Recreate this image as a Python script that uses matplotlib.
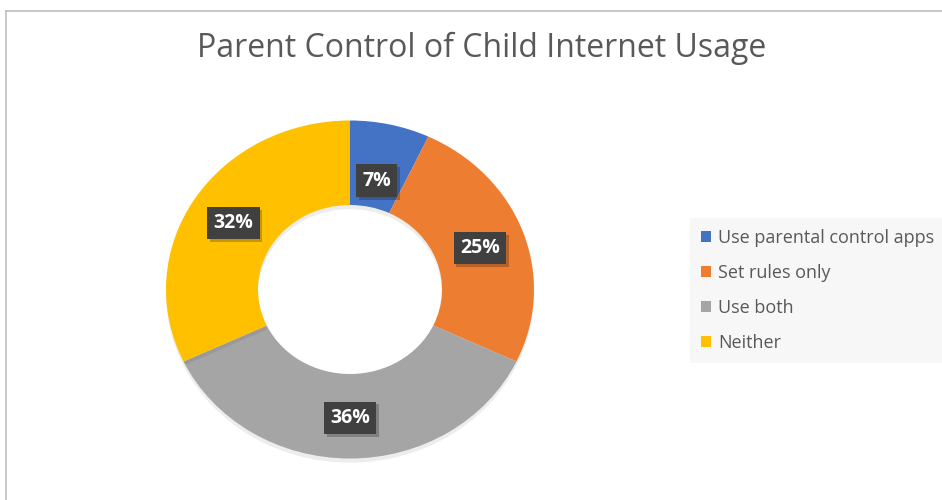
import matplotlib
matplotlib.use("Agg")
from matplotlib import pyplot as plt
from matplotlib import patheffects as pe
from matplotlib.patches import Patch
from matplotlib.lines import Line2D
import numpy as np

categories = ["Use parental control apps", "Set rules only", "Use both", "Neither"]
shares = [7, 25, 36, 32]
colors = ["#4472C4", "#ED7D31", "#A5A5A5", "#FFC000"]
title = "Parent Control of Child Internet Usage"

# label distance from centre (fraction of radius); the small slice is nudged in
label_r = [0.67, 0.75, 0.75, 0.75]

plt.rcParams['font.family'] = ['Open Sans', 'DejaVu Sans']

W, H = 942, 500
fig = plt.figure(figsize=(W / 100, H / 100), dpi=100)

# chart frame (cut off on the right and bottom in the original)
fig.add_artist(Line2D([5.5 / W, 1], [1 - 10.5 / H, 1 - 10.5 / H],
                      transform=fig.transFigure, color="#bfbfbf", lw=1.2))
fig.add_artist(Line2D([5.5 / W, 5.5 / W], [0, 1 - 10.5 / H],
                      transform=fig.transFigure, color="#bfbfbf", lw=1.2))

# the donut is slightly stretched horizontally in the original
cx, cy, rx, ry = 350, 289.5, 184, 169
ax = fig.add_axes([(cx - rx) / W, (H - cy - ry) / H, 2 * rx / W, 2 * ry / H])
wedges, _ = ax.pie(shares, colors=colors, startangle=90, counterclock=False,
                   radius=1.0, wedgeprops=dict(width=0.5, linewidth=0))
for w in wedges:
    w.set_path_effects([pe.SimplePatchShadow(offset=(0, -3), alpha=0.07, shadow_rgbFace="k"),
                        pe.Normal()])
ax.set_xlim(-1, 1)
ax.set_ylim(-1, 1)
ax.set_aspect("auto")
ax.axis("off")

total = sum(shares)
start = 90.0
for val, rr in zip(shares, label_r):
    ang = np.deg2rad(start - val / total * 360 / 2)
    start -= val / total * 360
    t = ax.text(rr * np.cos(ang), rr * np.sin(ang) - 0.01, f"{val}%",
                ha="center", va="center", color="white", fontsize=14,
                fontweight="bold",
                bbox=dict(boxstyle="square,pad=0.32", fc="#404040", ec="none"))
    t.get_bbox_patch().set_path_effects(
        [pe.SimplePatchShadow(offset=(2, -2), alpha=0.22, shadow_rgbFace="k"), pe.Normal()])

fig.text(482 / W, 1 - 48 / H, title, ha="center", va="center",
         fontsize=23, color="#595959")

handles = [Patch(facecolor=c, edgecolor="none") for c in colors]
leg = fig.legend(handles, categories, loc="upper left",
                 bbox_to_anchor=(690 / W, 1 - 218 / H),
                 frameon=True, facecolor="#f7f7f7", edgecolor="none",
                 fancybox=False, fontsize=13, labelcolor="#595959",
                 handlelength=0.55, handleheight=0.55, handletextpad=0.4,
                 labelspacing=0.95, borderpad=0.6, borderaxespad=0)
leg.get_frame().set_alpha(1)

fig.savefig("out.png", dpi=100, facecolor="white")
